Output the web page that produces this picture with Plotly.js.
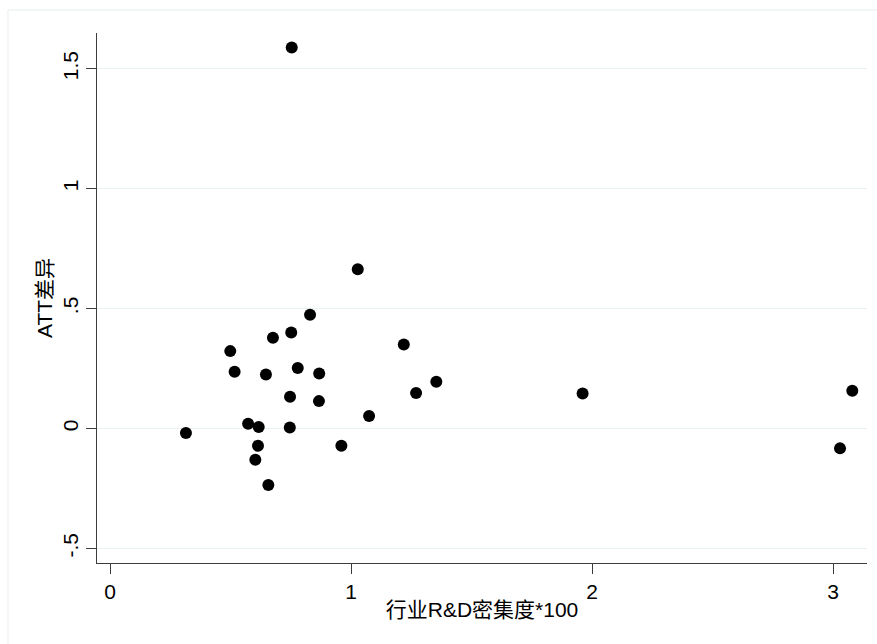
<!DOCTYPE html>
<html>
<head>
<meta charset="utf-8">
<script src="https://cdn.plot.ly/plotly-3.0.1.min.js"></script>
<style>html,body{margin:0;padding:0;background:#fff;}#chart{width:877px;height:644px;}</style>
</head>
<body>
<div id="chart"></div>
<script>
// R&D intensity * 100 (x) and ATT difference (y)
const rdIntensity = [0.754, 1.028, 0.830, 0.752, 0.676, 0.499, 1.219, 0.517, 0.647, 0.779,
  0.868, 1.354, 1.270, 0.747, 0.867, 1.075, 0.573, 0.617, 0.746, 0.315,
  0.614, 0.960, 0.603, 0.657, 1.961, 3.080, 3.029];
const attDiff = [1.589, 0.664, 0.474, 0.400, 0.378, 0.3225, 0.350, 0.236, 0.225, 0.252,
  0.229, 0.195, 0.1475, 0.132, 0.114, 0.052, 0.020, 0.006, 0.004, -0.019,
  -0.072, -0.072, -0.130, -0.236, 0.146, 0.157, -0.083];
const xTickVals = [0, 1, 2, 3];
const xTickText = ["0", "1", "2", "3"];
const yTickVals = [-0.5, 0, 0.5, 1, 1.5];
const yTickText = ["-.5", "0", ".5", "1", "1.5"];
const xTitle = "行业R&D密集度*100";
const yTitle = "ATT差异";

const fontFam = "Liberation Sans, Arial, Noto Sans CJK SC, sans-serif";

const trace = {
  x: rdIntensity, y: attDiff, type: "scatter", mode: "markers",
  marker: {color: "#000000", size: 12, line: {width: 0}},
  hoverinfo: "x+y"
};

const layout = {
  width: 877, height: 644,
  margin: {l: 97, r: 10, t: 33, b: 81, pad: 0},
  paper_bgcolor: "#ffffff", plot_bgcolor: "#ffffff",
  showlegend: false,
  font: {family: fontFam, size: 21, color: "#000"},
  xaxis: {
    range: [-0.054, 3.141],
    tickvals: xTickVals, ticktext: xTickText,
    showgrid: false, zeroline: false,
    showline: true, linecolor: "#3c3c3c", linewidth: 1,
    ticks: "outside", ticklen: 10, tickcolor: "#3c3c3c", tickwidth: 1,
    tickfont: {size: 21, family: fontFam},
    title: {text: xTitle, font: {size: 21, family: fontFam}, standoff: 0}
  },
  yaxis: {
    range: [-0.561, 1.649],
    tickvals: yTickVals, ticktext: yTickText,
    tickangle: -90,
    showgrid: true, gridcolor: "#eaf2f3", gridwidth: 1.5,
    zeroline: false,
    showline: true, linecolor: "#3c3c3c", linewidth: 1,
    ticks: "outside", ticklen: 10, tickcolor: "#3c3c3c", tickwidth: 1,
    tickfont: {size: 21, family: fontFam},
    title: {text: yTitle, font: {size: 21, family: fontFam}, standoff: 0}
  },
  shapes: [{
    type: "rect", xref: "paper", yref: "paper",
    x0: -0.1156, x1: 1.3, y0: -0.4, y1: 1.0434,
    line: {color: "#e6eef0", width: 1}, fillcolor: "rgba(0,0,0,0)", layer: "below"
  }]
};

Plotly.newPlot("chart", [trace], layout, {displayModeBar: false, staticPlot: true});
</script>
</body>
</html>
